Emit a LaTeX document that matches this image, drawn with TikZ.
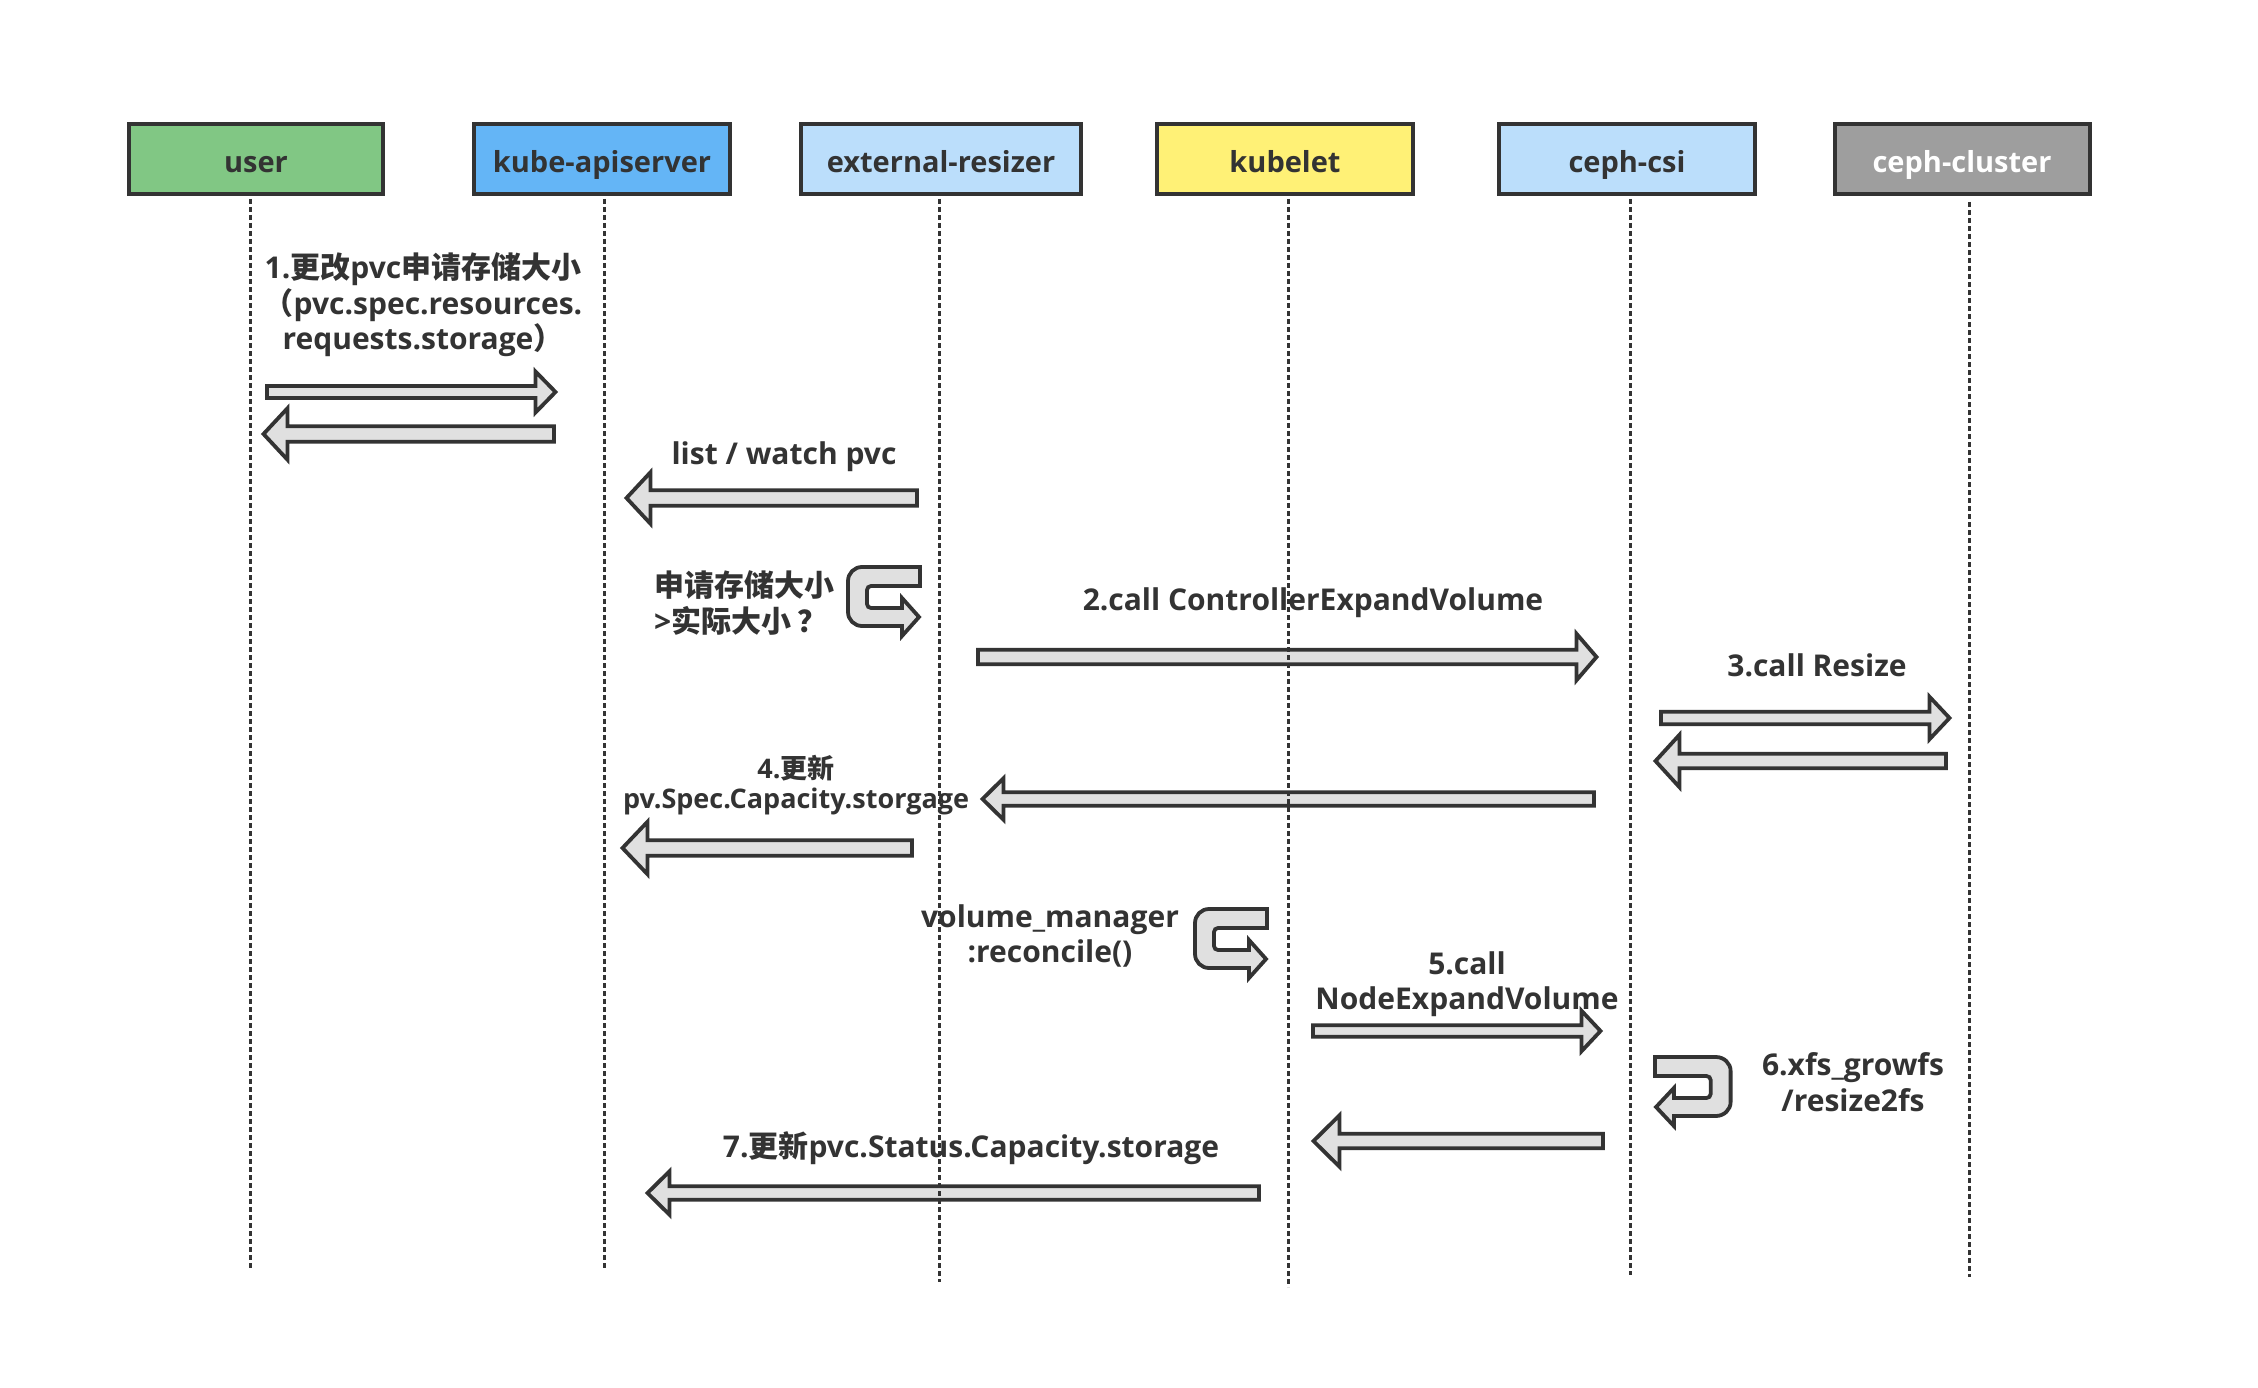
\documentclass[tikz,border=0pt]{standalone}
\usepackage{fontspec}
\setmainfont{Open Sans}
\newfontfamily\cjk{Noto Sans CJK SC Bold}
\newcommand\zh[1]{{\cjk #1}}
\definecolor{dk}{HTML}{333333}
\definecolor{ugreen}{HTML}{81C784}
\definecolor{kblue}{HTML}{64B5F6}
\definecolor{lblue}{HTML}{BBDEFB}
\definecolor{kyellow}{HTML}{FFF176}
\definecolor{cgray}{HTML}{9E9E9E}
\definecolor{afill}{HTML}{E0E0E0}
% block arrow: tail x, tip x, y, shaft half, head half, head length
\newcommand\barrow[6]{%
  \pgfmathsetmacro\barrowx{#2-sign(#2-#1)*#6}%
  \draw[barr] (#1,#3-#4) -- (\barrowx,#3-#4) -- (\barrowx,#3-#5) -- (#2,#3) -- (\barrowx,#3+#5) -- (\barrowx,#3+#4) -- (#1,#3+#4) -- cycle;}
% u-turn arrow, local origin = top right of top arm
\newcommand\uturnarrow[1]{%
  \begin{scope}[#1]
  \draw[barr] (0,0) -- (-58,0) arc[start angle=-90,end angle=-180,radius=14]
    -- (-72,45) arc[start angle=180,end angle=90,radius=14]
    -- (-18,59) -- (-18,69) -- (-1,50) -- (-18,31) -- (-18,41)
    -- (-49,41) arc[start angle=90,end angle=180,radius=4]
    -- (-53,23) arc[start angle=180,end angle=270,radius=4]
    -- (0,19) -- cycle;
  \end{scope}}
\begin{document}
\begin{tikzpicture}[x=1pt,y=-1pt,
  box/.style={draw=dk, line width=4pt, minimum height=70pt, inner sep=0pt,
    text height=30pt, text depth=2pt, text=dk, font=\fontsize{29}{34}\selectfont\bfseries},
  txt/.style={text=dk, inner sep=0pt, align=center, font=\fontsize{30}{35.5}\selectfont\bfseries},
  smalltxt/.style={text=dk, inner sep=0pt, align=center, font=\fontsize{27}{30}\selectfont\bfseries},
  life/.style={draw=dk, line width=3pt, dash pattern=on 5pt off 3pt},
  barr/.style={draw=dk, fill=afill, line width=3.8pt, line join=miter, miter limit=10}]
\useasboundingbox (0,0) rectangle (2258,1388);
\fill[white] (0,0) rectangle (2258,1388);

% participants
\node[box, fill=ugreen, minimum width=254pt] (user) at (256,159) {user};
\node[box, fill=kblue, minimum width=256pt] (kube) at (602,159) {kube-apiserver};
\node[box, fill=lblue, minimum width=280pt] (ext) at (941,159) {external-resizer};
\node[box, fill=kyellow, minimum width=256pt] (kubelet) at (1285,159) {kubelet};
\node[box, fill=lblue, minimum width=256pt] (csi) at (1627,159) {ceph-csi};
\node[box, fill=cgray, minimum width=255pt, text=white] (cluster) at (1962,159) {ceph-cluster};

% messages
\barrow{267}{555.5}{392}{6}{20.5}{20}
\barrow{554}{263.5}{434}{7.75}{25.75}{24}
\barrow{917}{626.5}{498}{7.75}{25.75}{24}
\uturnarrow{shift={(920,567)}}
\barrow{978}{1596.5}{657}{7.25}{23.25}{20}
\barrow{1661}{1949.5}{718}{6.25}{21.25}{20}
\barrow{1946}{1655.5}{761}{7.25}{26.25}{24}
\barrow{1594}{982.5}{799}{6.75}{20.75}{21}
\barrow{912}{622.5}{848}{7.75}{26.25}{25}
\uturnarrow{shift={(1267,909)}}
\barrow{1313}{1600.5}{1031}{5.75}{20.25}{19}
\uturnarrow{shift={(1655,1057)}, xscale=-1.05}
\barrow{1603}{1313.5}{1141}{7.25}{25.75}{26}
\barrow{1259}{647.5}{1193}{6.75}{21.75}{22}

% labels
\node[txt] (m1) at (423,305) {1.\zh{更改}pvc\zh{申请存储大小}\\\zh{（}pvc.spec.resources.\\requests.storage\zh{）}};
\node[txt] (m2) at (784,457) {list / watch pvc};
\node[txt, anchor=west, align=left] (m3) at (654,603) {\zh{申请存储大小}\\>\zh{实际大小}\hspace{6pt}\zh{？}};
\node[txt] (m4) at (1313,603) {2.call ControllerExpandVolume};
\node[txt] (m5) at (1817,665) {3.call Resize};
\node[smalltxt] (m6) at (796,785) {4.\zh{更新}\\pv.Spec.Capacity.storgage};
\node[txt] (m7) at (1050,936) {volume\_manager\\:reconcile()};
\node[txt] (m8) at (1467,984) {5.call\\NodeExpandVolume};
\node[txt] (m9) at (1853,1082) {6.xfs\_growfs\\/resize2fs};
\node[txt] (m10) at (971,1148) {7.\zh{更新}pvc.Status.Capacity.storage};

% lifelines
\coordinate (userEnd) at (250.5,1268);
\coordinate (kubeEnd) at (604.5,1268);
\coordinate (extEnd) at (939.5,1282);
\coordinate (kubeletEnd) at (1288.5,1287);
\coordinate (csiEnd) at (1630.5,1275);
\coordinate (clusterEnd) at (1969.5,1277);
\draw[life] (userEnd |- 0,199) -- (userEnd);
\draw[life] (kubeEnd |- 0,199) -- (kubeEnd);
\draw[life] (extEnd |- 0,199) -- (extEnd);
\draw[life] (kubeletEnd |- 0,199) -- (kubeletEnd);
\draw[life] (csiEnd |- 0,199) -- (csiEnd);
\draw[life] (clusterEnd |- 0,202) -- (clusterEnd);
\end{tikzpicture}
\end{document}
